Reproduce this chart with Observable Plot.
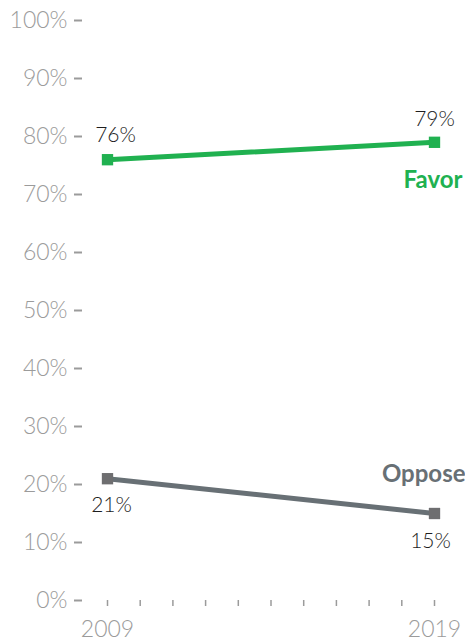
<!DOCTYPE html>
<html>
<head>
<meta charset="utf-8">
<script src="https://cdn.jsdelivr.net/npm/d3@7"></script>
<script src="https://cdn.jsdelivr.net/npm/@observablehq/plot@0.6"></script>
<style>
  body { margin: 0; background: #fff; }
</style>
</head>
<body>
<div id="chart"></div>
<script>
const years = [2009, 2019];
const favor = [76, 79];
const oppose = [21, 15];
const yTicks = [0, 10, 20, 30, 40, 50, 60, 70, 80, 90, 100];
const xTicks = [2009, 2010, 2011, 2012, 2013, 2014, 2015, 2016, 2017, 2018, 2019];
const xLabeled = [2009, 2019];

const green = "#20b150";
const gray = "#687075";
const axisGray = "#9b9b9b";

const favorData = years.map((y, i) => ({year: y, value: favor[i]}));
const opposeData = years.map((y, i) => ({year: y, value: oppose[i]}));
const pct = d => d.value + "%";

const chart = Plot.plot({
  width: 465,
  height: 642,
  marginLeft: 82,
  marginRight: 31,
  marginTop: 20,
  marginBottom: 42,
  style: {fontFamily: "Lato, sans-serif", fontSize: "22px", fontWeight: 300, background: "#fff"},
  x: {domain: [2009, 2019], insetLeft: 25},
  y: {domain: [0, 100]},
  marks: [
    Plot.axisY({ticks: yTicks, tickFormat: d => d + "%", tickSize: 8, tickPadding: 7, color: axisGray, strokeWidth: 2, fontSize: 23, label: null}),
    Plot.axisX({ticks: xTicks, tickFormat: d => xLabeled.includes(d) ? String(d) : "", tickSize: 6, tickPadding: 14, color: axisGray, strokeWidth: 1.5, fontSize: 23, label: null}),
    Plot.line(favorData, {x: "year", y: "value", stroke: green, strokeWidth: 5}),
    Plot.line(opposeData, {x: "year", y: "value", stroke: gray, strokeWidth: 5}),
    Plot.dot(favorData, {x: "year", y: "value", symbol: "square", r: 6.4, fill: green, stroke: null}),
    Plot.dot(opposeData, {x: "year", y: "value", symbol: "square", r: 6.4, fill: "#6e6e70", stroke: null}),
    Plot.text([favorData[0]], {x: "year", y: "value", text: pct, dx: 8, dy: -24, fill: "#1e1e1e", fontSize: 21, fontWeight: 300}),
    Plot.text([favorData[1]], {x: "year", y: "value", text: pct, dx: 0, dy: -23, fill: "#1e1e1e", fontSize: 21, fontWeight: 300}),
    Plot.text([opposeData[0]], {x: "year", y: "value", text: pct, dx: 4, dy: 27, fill: "#1e1e1e", fontSize: 21, fontWeight: 300}),
    Plot.text([opposeData[1]], {x: "year", y: "value", text: pct, dx: -4, dy: 28, fill: "#1e1e1e", fontSize: 21, fontWeight: 300}),
    Plot.text([{year: 2019, value: favor[1], label: "Favor"}], {x: "year", y: "value", text: "label", textAnchor: "end", dx: 28, dy: 38, fill: green, fontWeight: "bold", fontSize: 24}),
    Plot.text([{year: 2019, value: oppose[1], label: "Oppose"}], {x: "year", y: "value", text: "label", textAnchor: "end", dx: 31, dy: -39, fill: gray, fontWeight: "bold", fontSize: 24})
  ]
});
document.getElementById("chart").appendChild(chart);
</script>
</body>
</html>
